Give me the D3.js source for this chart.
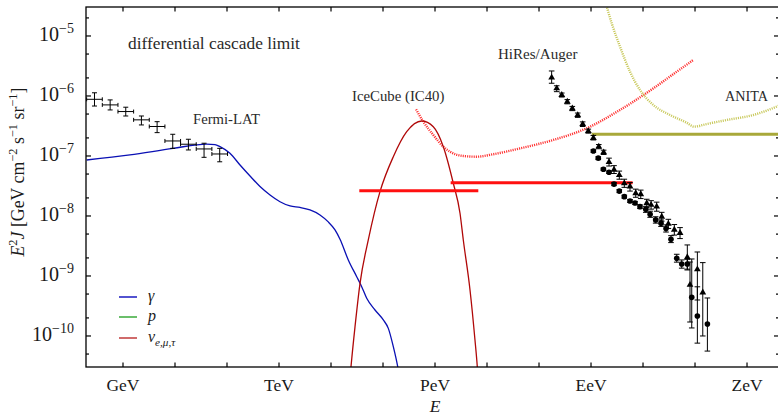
<!DOCTYPE html>
<html><head><meta charset="utf-8">
<script src="https://cdn.jsdelivr.net/npm/d3@7/dist/d3.min.js"></script>
<style>
body{margin:0;background:#fff;}
svg, svg text{font-family:"Liberation Serif","Tinos","Times New Roman","DejaVu Serif","Noto Serif",serif;}
</style></head><body>
<svg id="chart" width="778" height="416"></svg>
<script>
// ---------------- DATA ----------------
// x: energy in GeV ; y: E^2 J in GeV cm^-2 s^-1 sr^-1
const xTickValues = [1e0,1e1,1e2,1e3,1e4,1e5,1e6,1e7,1e8,1e9,1e10,1e11,1e12];
const xTickLabelValues = [1e0,1e3,1e6,1e9,1e12];
const xTickLabels = ["GeV","TeV","PeV","EeV","ZeV"];
const yTickValues = [1e-5,1e-6,1e-7,1e-8,1e-9,1e-10];
const yTickLabels = ["\u22125","\u22126","\u22127","\u22128","\u22129","\u221210"];
const yMinorMult = [2,5];

// Fermi-LAT diffuse gamma-ray background
const fermiE   = [0.283,0.566,1.13,2.26,4.53,9.05,18.1,36.2,72.4];
const fermiELo = [0.2,0.4,0.8,1.6,3.2,6.4,12.8,25.6,51.2];
const fermiEHi = [0.4,0.8,1.6,3.2,6.4,12.8,25.6,51.2,102.4];
const fermiFlux= [8.8e-7,7.1e-7,5.5e-7,4.0e-7,3.1e-7,1.78e-7,1.57e-7,1.31e-7,1.08e-7];
const fermiLo  = [6.8e-7,5.85e-7,4.64e-7,3.29e-7,2.45e-7,1.34e-7,1.26e-7,9.5e-8,8.0e-8];
const fermiHi  = [1.13e-6,8.6e-7,6.5e-7,4.64e-7,3.73e-7,2.3e-7,1.9e-7,1.63e-7,1.34e-7];

// gamma cascade spectrum
const gammaE    = [0.2,1.36,9.16,40.7,58.8,73.3,114,178,277,431,672,1045,1629,2535,3945,6140,8750,11940,14900,21500,31200,38900,48600,70200,101400,126500,157800,191800,212000];
const gammaFlux = [8.57e-8,1.04e-7,1.34e-7,1.58e-7,1.55e-7,1.43e-7,1.11e-7,7.08e-8,4.64e-8,3.10e-8,2.24e-8,1.73e-8,1.47e-8,1.39e-8,1.26e-8,1.04e-8,8.04e-9,5.85e-9,4.09e-9,1.85e-9,9.73e-10,6.64e-10,4.25e-10,2.71e-10,1.85e-10,1.34e-10,6.64e-11,3.08e-11,1.85e-11];

// neutrino spectrum (all flavour)
const nuE    = [22200,24240,28960,36140,52120,87500,157800,285600,554600,926800,1.445e6,2.249e6,3.026e6,3.5e6,4.71e6,5.87e6,6.5e6,7.0e6];
const nuFlux = [1.26e-11,3.08e-11,1.43e-10,7.55e-10,3.98e-9,2.54e-8,9.73e-8,2.54e-7,3.83e-7,3.08e-7,1.43e-7,3.51e-8,1.11e-8,3.98e-9,5.85e-10,8.57e-11,3.08e-11,1.04e-11];

// differential cascade limits (horizontal segments)
const limitNames = ["IceCube","HiRes/Auger","ANITA"];
const limitELo   = [3.5e4, 2.0e6, 1.03e9];
const limitEHi   = [6.8e6, 6.3e9, 1e13];
const limitFlux  = [2.64e-8, 3.59e-8, 2.3e-7];

// IceCube (IC40) sensitivity
const icE    = [431500,595700,926800,1.445e6,1.941e6,3.5e6,6.34e6,1.32e7,4.32e7,1.885e8,8.26e8,3.61e9,1.58e10,4.45e10,9.27e10];
const icFlux = [6.0e-7,3.73e-7,2.24e-7,1.43e-7,1.18e-7,1.0e-7,9.73e-8,1.07e-7,1.34e-7,1.85e-7,2.9e-7,5.85e-7,1.34e-6,2.54e-6,3.98e-6];

// ANITA sensitivity
const anitaE    = [1.78e9,2.5e9,3.61e9,5.62e9,8.75e9,1.58e10,3.3e10,6.92e10,9.57e10,1.68e11,4.07e11,1.32e12,3.72e12,5e12];
const anitaFlux = [4.47e-5,1.63e-5,6.64e-6,2.54e-6,1.26e-6,7.08e-7,4.82e-7,3.59e-7,3.08e-7,3.41e-7,3.98e-7,4.82e-7,6.64e-7,7.4e-7];

// HiRes (triangles)
const hiresE    = [1.75e8,2.19e8,2.74e8,3.50e8,4.37e8,5.55e8,6.92e8,8.87e8,1.11e9,1.41e9,1.75e9,2.22e9,2.77e9,3.50e9,4.37e9,5.62e9,7.24e9,9.04e9,1.18e10,1.43e10,1.83e10,2.29e10,3.07e10,4.0e10,5.15e10,7.11e10,8.01e10,1.11e11,1.41e11];
const hiresFlux = [2.02e-6,1.34e-6,1.04e-6,8.0e-7,6.2e-7,4.8e-7,3.4e-7,2.6e-7,2.0e-7,1.43e-7,1.15e-7,7.9e-8,5.9e-8,4.8e-8,3.5e-8,3.1e-8,2.4e-8,2.3e-8,1.63e-8,1.53e-8,1.43e-8,9.7e-9,7.4e-9,5.9e-9,5.2e-9,2.05e-9,7.1e-10,1.29e-9,5.3e-10];
const hiresLo   = [1.63e-6,1.18e-6,0.96e-6,7.4e-7,5.7e-7,4.4e-7,3.1e-7,2.4e-7,1.85e-7,1.32e-7,1.06e-7,6.8e-8,5.1e-8,4.1e-8,3.0e-8,2.6e-8,2.05e-8,1.95e-8,1.38e-8,1.3e-8,1.2e-8,8.2e-9,6.2e-9,4.8e-9,4.2e-9,1.26e-9,1.71e-10,3.98e-10,1.0e-10];
const hiresHi   = [2.61e-6,1.48e-6,1.12e-6,8.7e-7,6.7e-7,5.2e-7,3.7e-7,2.8e-7,2.2e-7,1.55e-7,1.25e-7,9.2e-8,6.9e-8,5.6e-8,4.1e-8,3.6e-8,2.8e-8,2.7e-8,1.9e-8,1.8e-8,1.7e-8,1.15e-8,8.8e-9,7.2e-9,6.4e-9,3.29e-9,1.71e-9,2.51e-9,1.67e-9];

// Auger (circles)
const augerE    = [1.11e9,1.38e9,1.73e9,2.22e9,2.77e9,3.50e9,4.37e9,5.62e9,7.02e9,8.75e9,1.13e10,1.37e10,1.75e10,2.22e10,2.77e10,3.45e10,4.45e10,5.55e10,7.11e10,8.65e10,1.11e11,1.73e11];
const augerFlux = [1.21e-7,9.2e-8,6.0e-8,5.35e-8,3.4e-8,2.6e-8,2.1e-8,1.78e-8,1.65e-8,1.43e-8,1.29e-8,1.07e-8,8.6e-9,7.6e-9,6.2e-9,4.1e-9,1.97e-9,1.58e-9,1.58e-9,4.4e-10,2.15e-10,1.58e-10];
const augerLo   = [1.15e-7,8.7e-8,5.7e-8,5.1e-8,3.2e-8,2.45e-8,1.98e-8,1.68e-8,1.55e-8,1.33e-8,1.15e-8,0.95e-8,7.6e-9,6.7e-9,5.4e-9,3.6e-9,1.7e-9,1.35e-9,1.3e-9,1.36e-10,7.6e-11,5.6e-11];
const augerHi   = [1.27e-7,9.7e-8,6.3e-8,5.6e-8,3.6e-8,2.75e-8,2.22e-8,1.88e-8,1.75e-8,1.53e-8,1.43e-8,1.2e-8,9.7e-9,8.6e-9,7.1e-9,4.7e-9,2.3e-9,1.85e-9,1.9e-9,1.92e-9,6.6e-10,4.3e-10];

// ---------------- CHART ----------------
const FONT = '"Liberation Serif","Tinos","Times New Roman","DejaVu Serif","Noto Serif",serif';
const L = 86, T = 7, R = 779, B = 367;
const x = d3.scaleLog().domain([Math.pow(10,-0.7115), Math.pow(10,12.615)]).range([L,R]);
const y = d3.scaleLog().domain([Math.pow(10,-10.517), Math.pow(10,-4.517)]).range([B,T]);

const svg = d3.select("#chart").attr("font-family",FONT);
svg.append("defs").append("clipPath").attr("id","clip")
  .append("rect").attr("x",L).attr("y",T).attr("width",R-L).attr("height",B-T);
const plot = svg.append("g").attr("clip-path","url(#clip)");

const zip = (a,b)=>a.map((v,i)=>[v,b[i]]);
const line = d3.line().x(d=>x(d[0])).y(d=>y(d[1])).curve(d3.curveMonotoneX);

const cBlue = "#0a10b4", cNu = "#b00808", cRed = "#ff1010", cOlive = "#a8a83a";

// sensitivities (dotted)
plot.append("path").attr("d", line(zip(icE,icFlux)))
  .attr("fill","none").attr("stroke","#ff3030").attr("stroke-width",2.4).attr("stroke-dasharray","1.1,1.1");
plot.append("path").attr("d", line(zip(anitaE,anitaFlux)))
  .attr("fill","none").attr("stroke","#c8c85a").attr("stroke-width",2.4).attr("stroke-dasharray","1.1,1.1");

// spectra
plot.append("path").attr("d", line(zip(gammaE,gammaFlux)))
  .attr("fill","none").attr("stroke",cBlue).attr("stroke-width",1.3);
plot.append("path").attr("d", line(zip(nuE,nuFlux)))
  .attr("fill","none").attr("stroke",cNu).attr("stroke-width",1.3);

// limits
const limitColors = [cRed,cRed,cOlive];
limitNames.forEach((n,i)=>{
  plot.append("line").attr("x1",x(limitELo[i])).attr("x2",x(limitEHi[i]))
    .attr("y1",y(limitFlux[i])).attr("y2",y(limitFlux[i]))
    .attr("stroke",limitColors[i]).attr("stroke-width",3);
});

// error bars helper
function vErr(g, xs, lo, hi, cap){
  xs.forEach((xv,i)=>{
    const px = x(xv), y1 = y(lo[i]), y2 = y(hi[i]);
    g.append("line").attr("x1",px).attr("x2",px).attr("y1",y1).attr("y2",y2);
    g.append("line").attr("x1",px-cap).attr("x2",px+cap).attr("y1",y1).attr("y2",y1);
    g.append("line").attr("x1",px-cap).attr("x2",px+cap).attr("y1",y2).attr("y2",y2);
  });
}
const eg = plot.append("g").attr("stroke","#000").attr("stroke-width",1);
// Fermi crosses
fermiE.forEach((e,i)=>{
  const py = y(fermiFlux[i]);
  eg.append("line").attr("x1",x(fermiELo[i])).attr("x2",x(fermiEHi[i])).attr("y1",py).attr("y2",py);
  eg.append("line").attr("x1",x(fermiELo[i])).attr("x2",x(fermiELo[i])).attr("y1",py-2).attr("y2",py+2);
  eg.append("line").attr("x1",x(fermiEHi[i])).attr("x2",x(fermiEHi[i])).attr("y1",py-2).attr("y2",py+2);
});
vErr(eg, fermiE, fermiLo, fermiHi, 2.5);
vErr(eg, hiresE, hiresLo, hiresHi, 2.8);
vErr(eg, augerE, augerLo, augerHi, 2.8);

// markers
plot.append("g").selectAll("circle").data(zip(augerE,augerFlux)).join("circle")
  .attr("cx",d=>x(d[0])).attr("cy",d=>y(d[1])).attr("r",2.8).attr("fill","#000");
plot.append("g").selectAll("path").data(zip(hiresE,hiresFlux)).join("path")
  .attr("transform",d=>`translate(${x(d[0])},${y(d[1])})`)
  .attr("d", d3.symbol(d3.symbolTriangle).size(20)).attr("fill","#000");

// frame
svg.append("rect").attr("x",L).attr("y",T).attr("width",R-L).attr("height",B-T)
  .attr("fill","none").attr("stroke","#000").attr("stroke-width",1.3);

// ticks
const tk = svg.append("g").attr("stroke","#000").attr("stroke-width",1.2);
xTickValues.forEach(v=>{
  const px = x(v);
  tk.append("line").attr("x1",px).attr("x2",px).attr("y1",B).attr("y2",B-4.5);
  tk.append("line").attr("x1",px).attr("x2",px).attr("y1",T).attr("y2",T+4.5);
});
for(let e=-11;e<=-4;e++){
  const v = Math.pow(10,e);
  const ticks = [[v,5]].concat(yMinorMult.map(m=>[m*v,3]));
  ticks.forEach(([tv,len])=>{
    const py = y(tv);
    if(py < T+0.5 || py > B-0.5) return;
    tk.append("line").attr("x1",L).attr("x2",L+len).attr("y1",py).attr("y2",py);
    tk.append("line").attr("x1",R).attr("x2",R-len).attr("y1",py).attr("y2",py);
  });
}

// rich text helper
function rich(sel, parts, fs){
  let shift = 0;
  sel.selectAll("tspan").remove();
  parts.forEach(p=>{
    const ts = sel.append("tspan").text(p.t).attr("font-family",FONT);
    const target = p.sup ? -0.42*fs : (p.sub ? 0.28*fs : 0);
    if(target-shift !== 0) ts.attr("dy", target-shift);
    shift = target;
    if(p.sup||p.sub) ts.attr("font-size", fs*0.7);
    if(p.it) ts.attr("font-style","italic");
  });
}
function fitSize(makeFn, fs0, width){
  const t = makeFn(fs0);
  const w = t.node().getComputedTextLength();
  const fs = fs0*width/w;
  t.remove();
  return fs;
}

const txt = "#1a1a1a";
// x tick labels
const xfs = fitSize(fs=>svg.append("text").attr("font-size",fs).text("GeV"), 16, 33);
xTickLabelValues.forEach((v,i)=>{
  svg.append("text").attr("x",x(v)).attr("y",391).attr("text-anchor","middle")
    .attr("font-size",xfs).attr("fill",txt).text(xTickLabels[i]);
});
// y tick labels
const yfs = fitSize(fs=>{const t=svg.append("text").attr("font-size",fs); rich(t,[{t:"10"},{t:"\u22126",sup:true}],fs); return t;}, 16, 35);
yTickValues.forEach((v,i)=>{
  const t = svg.append("text").attr("x",74).attr("y",y(v)+5).attr("text-anchor","end")
    .attr("font-size",yfs).attr("fill",txt);
  rich(t,[{t:"10"},{t:yTickLabels[i],sup:true}],yfs);
});

// axis titles
svg.append("text").attr("x",(x(1e6))).attr("y",412).attr("text-anchor","middle")
  .attr("font-size",xfs).attr("font-style","italic").attr("fill",txt).text("E");
const ylParts = [{t:"E",it:true},{t:"2",sup:true},{t:"J",it:true},{t:" [GeV cm"},{t:"\u22122",sup:true},
  {t:" s"},{t:"\u22121",sup:true},{t:" sr"},{t:"\u22121",sup:true},{t:"]"}];
const ylfs = fitSize(fs=>{const t=svg.append("text").attr("font-size",fs); rich(t,ylParts,fs); return t;}, 16, 169);
const yl = svg.append("text").attr("transform","translate(24,172) rotate(-90)")
  .attr("text-anchor","middle").attr("font-size",ylfs).attr("fill",txt);
rich(yl, ylParts, ylfs);

// annotations (fit to width)
function label(str, x0, yb, w){
  const fs = fitSize(f=>svg.append("text").attr("font-size",f).text(str), 14, w);
  svg.append("text").attr("x",x0).attr("y",yb).attr("font-size",fs).attr("fill","#2a2a2a").text(str);
}
label("differential cascade limit", 128, 49, 172);
label("Fermi-LAT", 193, 124, 67);
label("IceCube (IC40)", 352, 101, 92.5);
label("HiRes/Auger", 498, 59, 79.5);
label("ANITA", 725, 101, 43);

// legend
const legItems = [
  {parts:[{t:"\u03b3",it:true}], color:"#1a1ac0", y:297},
  {parts:[{t:"p",it:true}], color:"#3aaa3a", y:317},
  {parts:[{t:"\u03bd",it:true},{t:"e,\u03bc,\u03c4",sub:true,it:true}], color:"#c03a3a", y:338}
];
legItems.forEach(it=>{
  svg.append("line").attr("x1",119).attr("x2",137).attr("y1",it.y).attr("y2",it.y)
    .attr("stroke",it.color).attr("stroke-width",1.5);
  const t = svg.append("text").attr("x",148).attr("y",it.y+4).attr("font-size",16).attr("fill",txt);
  rich(t,it.parts,16);
});
</script>
</body></html>
